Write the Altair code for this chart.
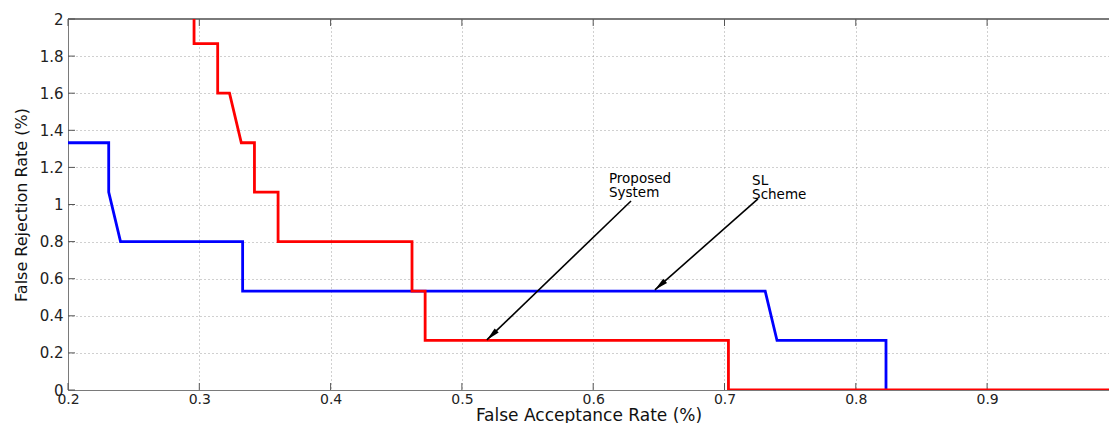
import math
import altair as alt
import pandas as pd

# ---- data ----
red_x = [0.296, 0.296, 0.314, 0.314, 0.323, 0.332, 0.342, 0.342, 0.360, 0.360,
         0.462, 0.462, 0.472, 0.472, 0.703, 0.703, 1.0]
red_y = [2.0, 1.867, 1.867, 1.6, 1.6, 1.333, 1.333, 1.067, 1.067, 0.8,
         0.8, 0.533, 0.533, 0.267, 0.267, 0.0, 0.0]
blue_x = [0.2, 0.231, 0.231, 0.240, 0.333, 0.333, 0.731, 0.740, 0.823, 0.823]
blue_y = [1.333, 1.333, 1.067, 0.8, 0.8, 0.533, 0.533, 0.267, 0.267, 0.0]

x_ticks = [0.2, 0.3, 0.4, 0.5, 0.6, 0.7, 0.8, 0.9]
y_ticks = [0, 0.2, 0.4, 0.6, 0.8, 1.0, 1.2, 1.4, 1.6, 1.8, 2.0]

ann_text = ["Proposed\nSystem", "SL\nScheme"]
ann_text_x = [0.612, 0.721]
ann_text_y = [1.116, 1.105]
arrow_tail_x = [0.6288, 0.7255]
arrow_tail_y = [1.019, 1.030]
arrow_head_x = [0.519, 0.647]
arrow_head_y = [0.270, 0.540]

# ---- layout ----
W, H = 1041, 371
XD = [0.2, 0.2 + 0.1 * W / 131.3]   # visible part of the 0.2..1 axis
YD = [0.0, 2.0]
FONT = "DejaVu Sans"

xs = alt.Scale(domain=XD, nice=False, zero=False)
ys = alt.Scale(domain=YD, nice=False, zero=False)

df_red = pd.DataFrame({"x": red_x, "y": red_y, "i": range(len(red_x))})
df_blue = pd.DataFrame({"x": blue_x, "y": blue_y, "i": range(len(blue_x))})

px_per_x = W / (XD[1] - XD[0])
px_per_y = H / (YD[1] - YD[0])
angles = []
for tx, ty, hx, hy in zip(arrow_tail_x, arrow_tail_y, arrow_head_x, arrow_head_y):
    dx = (hx - tx) * px_per_x
    dy = -(hy - ty) * px_per_y
    angles.append(math.degrees(math.atan2(dx, -dy)) % 360)

arrow_rows = []
for k in range(len(arrow_tail_x)):
    arrow_rows.append({"a": k, "x": arrow_tail_x[k], "y": arrow_tail_y[k], "i": 0})
    arrow_rows.append({"a": k, "x": arrow_head_x[k], "y": arrow_head_y[k], "i": 1})
df_arrows = pd.DataFrame(arrow_rows)
df_heads = pd.DataFrame({"x": arrow_head_x, "y": arrow_head_y, "ang": angles})
df_text = pd.DataFrame({"x": ann_text_x, "y": ann_text_y, "t": ann_text})
df_xt = pd.DataFrame({"v": x_ticks})
df_yt = pd.DataFrame({"v": y_ticks})

x_axis = alt.Axis(values=x_ticks, format="~g", title="False Acceptance Rate (%)",
                  grid=True, gridDash=[1, 3], gridColor="#a0a0a0", gridWidth=1,
                  domain=True, domainColor="#7a7a7a", ticks=False,
                  labelPadding=2, labelFontSize=14,
                  titleFontSize=17, titleBaseline="alphabetic", titleY=30,
                  labelFlush=False, labelOverlap=False)
y_axis = alt.Axis(values=y_ticks, format="~g", title="False Rejection Rate (%)",
                  grid=True, gridDash=[1, 3], gridColor="#a0a0a0", gridWidth=1,
                  domain=True, domainColor="#7a7a7a", ticks=False,
                  labelPadding=5, labelFontSize=15, titleFontSize=16, titlePadding=10,
                  labelFlush=False, labelOverlap=False)


def X(f):
    return alt.X(f, scale=xs, axis=x_axis)


def Y(f):
    return alt.Y(f, scale=ys, axis=y_axis)


blue = alt.Chart(df_blue).mark_line(color="#0000ff", strokeWidth=2.8, clip=True).encode(
    x=X("x:Q"), y=Y("y:Q"), order="i:Q")
red = alt.Chart(df_red).mark_line(color="#ff0000", strokeWidth=2.8, clip=True).encode(
    x=X("x:Q"), y=Y("y:Q"), order="i:Q")

tick_color = "#555555"
bot_ticks = alt.Chart(df_xt).mark_rule(color=tick_color, strokeWidth=1).encode(
    x=X("v:Q"), y=alt.value(H), y2=alt.value(H - 7))
top_ticks = alt.Chart(df_xt).mark_rule(color=tick_color, strokeWidth=1).encode(
    x=X("v:Q"), y=alt.value(0), y2=alt.value(7))
left_ticks = alt.Chart(df_yt).mark_rule(color=tick_color, strokeWidth=1).encode(
    y=Y("v:Q"), x=alt.value(0), x2=alt.value(7))
top_line = alt.Chart(df_xt).mark_rule(color="#7a7a7a", strokeWidth=1).encode(
    y=alt.value(0), x=alt.value(0), x2=alt.value(W))

shafts = alt.Chart(df_arrows).mark_line(color="black", strokeWidth=1.6).encode(
    x=X("x:Q"), y=Y("y:Q"), detail="a:N", order="i:Q")
heads = alt.Chart(df_heads).mark_point(
    shape="M0,0L-0.55,2.6L0.55,2.6Z", filled=True, color="black", size=110, opacity=1
).encode(x=X("x:Q"), y=Y("y:Q"), angle=alt.Angle("ang:Q", scale=None))

texts = alt.Chart(df_text).mark_text(
    align="left", baseline="alphabetic", lineBreak="\n", lineHeight=14,
    font=FONT, fontSize=13.5, color="black"
).encode(x=X("x:Q"), y=Y("y:Q"), text="t:N")

chart = alt.layer(
    top_line, bot_ticks, top_ticks, left_ticks,
    blue, red, shafts, heads, texts
).properties(
    width=W, height=H,
    autosize=alt.AutoSizeParams(type="none"),
    padding={"left": 60, "top": 11, "right": 0, "bottom": 34},
    background="white",
).configure_view(
    strokeWidth=0
).configure_axis(
    labelFont=FONT, labelColor="#222222", labelOverlap=False,
    titleFont=FONT, titleFontWeight="normal", titleColor="#111111",
)

chart.save("out.html", embed_options={"renderer": "svg", "actions": False})
